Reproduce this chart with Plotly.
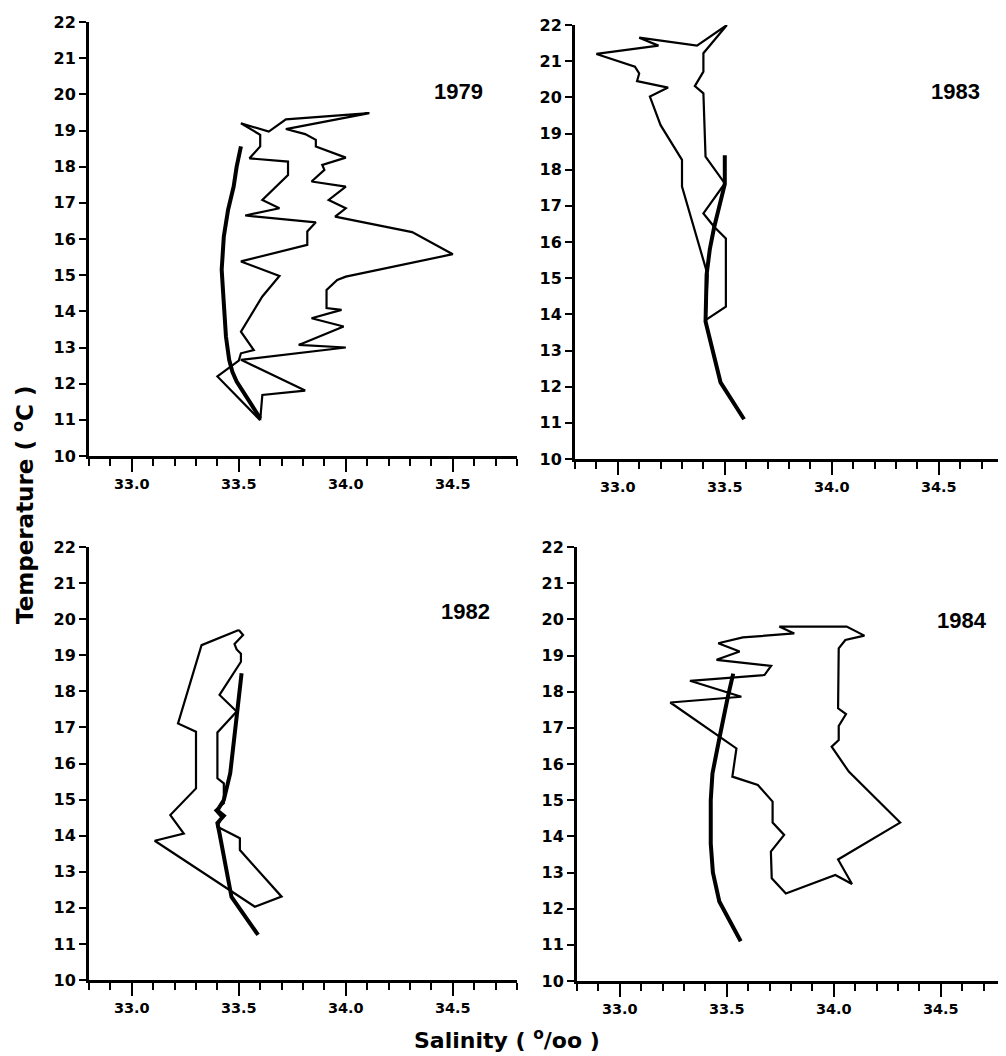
import plotly.graph_objects as go

# ---------------- data ----------------
years = ["1979", "1983", "1982", "1984"]

# 1979 (thin loop = observed, thick = mean)
sal_1979_loop = [33.60, 33.61, 33.81, 33.51, 34.00, 33.78, 33.99, 33.84, 33.98, 33.91, 33.91, 33.96, 34.00,
                 34.50, 34.31, 33.95, 34.00, 33.92, 34.00, 33.84, 33.90, 33.89, 34.00, 33.86, 33.86, 33.81,
                 33.72, 34.11, 33.72, 33.64, 33.51, 33.60, 33.60, 33.55, 33.73, 33.73, 33.61, 33.69, 33.53,
                 33.86, 33.82, 33.82, 33.51, 33.69, 33.61, 33.51, 33.57, 33.51, 33.50, 33.40, 33.60]
temp_1979_loop = [10.99, 11.69, 11.81, 12.66, 13.00, 13.07, 13.58, 13.81, 14.04, 14.09, 14.59, 14.87, 14.96,
                  15.58, 16.19, 16.62, 16.85, 17.08, 17.45, 17.59, 17.91, 18.05, 18.25, 18.56, 18.74, 18.90,
                  19.04, 19.48, 19.31, 18.97, 19.20, 18.88, 18.56, 18.23, 18.14, 17.77, 17.08, 16.85, 16.65,
                  16.46, 16.21, 15.84, 15.38, 14.98, 14.41, 13.44, 12.93, 12.84, 12.64, 12.20, 10.99]
sal_1979_mean = [33.51, 33.49, 33.476, 33.45, 33.43, 33.42, 33.43, 33.44, 33.455, 33.47, 33.49, 33.60]
temp_1979_mean = [18.56, 18.00, 17.45, 16.81, 16.07, 15.15, 14.22, 13.30, 12.66, 12.33, 12.06, 11.04]

# 1983
sal_1983_loop = [33.51, 33.37, 33.10, 33.19, 32.90, 33.08, 33.10, 33.09, 33.235, 33.15, 33.20, 33.30, 33.30,
                 33.42, 33.41, 33.505, 33.505, 33.45, 33.40, 33.50, 33.41, 33.40, 33.36, 33.40, 33.40, 33.51]
temp_1983_loop = [22.00, 21.43, 21.65, 21.43, 21.20, 20.85, 20.66, 20.45, 20.27, 20.02, 19.23, 18.27, 17.53,
                  15.09, 13.84, 14.21, 16.10, 16.42, 16.79, 17.62, 18.36, 20.11, 20.31, 20.71, 21.22, 22.00]
sal_1983_mean = [33.50, 33.50, 33.45, 33.43, 33.415, 33.41, 33.48, 33.59]
temp_1983_mean = [18.40, 17.60, 16.40, 15.80, 15.10, 13.80, 12.12, 11.10]

# 1982
sal_1982_loop = [33.50, 33.326, 33.216, 33.30, 33.30, 33.18, 33.243, 33.107, 33.575, 33.70, 33.505, 33.505,
                 33.40, 33.42, 33.39, 33.43, 33.43, 33.40, 33.40, 33.49, 33.41, 33.51, 33.51, 33.49, 33.48,
                 33.52, 33.50]
temp_1982_loop = [19.70, 19.28, 17.11, 16.88, 15.31, 14.57, 14.06, 13.86, 12.03, 12.31, 13.60, 13.93,
                  14.25, 14.50, 14.70, 14.90, 15.45, 15.59, 16.86, 17.44, 17.90, 18.82, 19.04, 19.16, 19.31,
                  19.56, 19.70]
sal_1982_mean = [33.513, 33.49, 33.46, 33.43, 33.40, 33.43, 33.40, 33.41, 33.466, 33.59]
temp_1982_mean = [18.50, 17.34, 15.73, 14.99, 14.70, 14.55, 14.35, 14.06, 12.30, 11.25]

# 1984
sal_1984_loop = [33.745, 34.06, 34.143, 34.054, 34.023, 34.02, 34.057, 34.023, 34.023, 33.99, 34.07, 34.31,
                 34.02, 34.085, 34.007, 33.776, 33.71, 33.706, 33.768, 33.714, 33.714, 33.645, 33.526,
                 33.545, 33.236, 33.568, 33.328, 33.676, 33.707, 33.452, 33.56, 33.46, 33.575, 33.815, 33.745]
temp_1984_loop = [19.80, 19.80, 19.55, 19.43, 19.20, 17.54, 17.38, 17.05, 16.66, 16.48, 15.79, 14.38,
                  13.36, 12.68, 12.93, 12.42, 12.84, 13.58, 14.04, 14.38, 14.96, 15.42, 15.65,
                  16.43, 17.70, 17.86, 18.30, 18.46, 18.71, 18.88, 19.11, 19.34, 19.50, 19.61, 19.80]
sal_1984_mean = [33.53, 33.505, 33.467, 33.433, 33.425, 33.425, 33.435, 33.465, 33.565]
temp_1984_mean = [18.50, 17.86, 16.76, 15.74, 15.00, 13.80, 13.00, 12.20, 11.10]

x_range = [32.8, 34.8]
y_range = [10, 22]
x_major_ticks = [33.0, 33.5, 34.0, 34.5]
x_tick_labels = ["33.0", "33.5", "34.0", "34.5"]
y_ticks = list(range(10, 23))
y_tick_labels = [str(v) for v in y_ticks]

panels = [
    (sal_1979_loop, temp_1979_loop, sal_1979_mean, temp_1979_mean),
    (sal_1983_loop, temp_1983_loop, sal_1983_mean, temp_1983_mean),
    (sal_1982_loop, temp_1982_loop, sal_1982_mean, temp_1982_mean),
    (sal_1984_loop, temp_1984_loop, sal_1984_mean, temp_1984_mean),
]

# ---------------- layout geometry ----------------
# The page body has an 8px margin, so the figure is drawn 8px in from the
# window corner; positions below are window pixels and are shifted by OFF.
OFF = 8
W, H = 1006 - OFF, 1056 - OFF
# (left, right, top, bottom) in window pixels
boxes = [
    (89, 517, 22, 456),
    (575, 1003, 25, 459),
    (89, 517, 547, 980),
    (577, 1005, 547, 981),
]
year_pos = [(458, 92), (955, 92), (465, 611), (962, 620)]


def px_x(v):
    return (v - OFF) / W


def px_y(v):
    return 1 - (v - OFF) / H


FONT = "Liberation Sans, Arial, Helvetica, sans-serif"
WIDE = "DejaVu Sans, Verdana, sans-serif"

fig = go.Figure()
layout = dict(
    template="none",
    width=W, height=H,
    margin=dict(l=0, r=0, t=0, b=0, pad=0),
    paper_bgcolor="white", plot_bgcolor="white",
    showlegend=False,
    font=dict(family=FONT, color="black"),
)

for i, (sl, tl, sm, tm) in enumerate(panels):
    n = "" if i == 0 else str(i + 1)
    fig.add_trace(go.Scatter(x=sl, y=tl, mode="lines", xaxis="x" + n, yaxis="y" + n,
                             line=dict(color="black", width=2.2), hoverinfo="skip"))
    fig.add_trace(go.Scatter(x=sm, y=tm, mode="lines", xaxis="x" + n, yaxis="y" + n,
                             line=dict(color="black", width=4), hoverinfo="skip"))
    l, r, t, b = boxes[i]
    layout["xaxis" + n] = dict(
        domain=[px_x(l), min(px_x(r), 1.0)], anchor="y" + n, range=x_range, automargin=False,
        tickmode="array", tickvals=x_major_ticks,
        ticktext=["<b>%s</b>" % s for s in x_tick_labels],
        ticks="outside", ticklen=13, tickwidth=2, tickcolor="black",
        minor=dict(dtick=0.1, tick0=32.8, ticks="outside", ticklen=7, tickwidth=2, tickcolor="black",
                   showgrid=False),
        showline=True, linewidth=3, linecolor="black",
        showgrid=False, zeroline=False,
        tickfont=dict(family=WIDE, size=14.5, color="black"),
        fixedrange=True,
    )
    layout["yaxis" + n] = dict(
        domain=[px_y(b), px_y(t)], anchor="x" + n, range=y_range, automargin=False,
        tickmode="array", tickvals=y_ticks,
        ticktext=["<b>%s</b>" % s for s in y_tick_labels],
        ticks="outside", ticklen=7, tickwidth=2, tickcolor="black",
        showline=True, linewidth=3, linecolor="black",
        showgrid=False, zeroline=False,
        tickfont=dict(family=WIDE, size=16, color="black"),
        fixedrange=True,
    )

annotations = []
for (px, py), yr in zip(year_pos, years):
    annotations.append(dict(x=px_x(px), y=px_y(py), xref="paper", yref="paper",
                            text="<b>%s</b>" % yr, showarrow=False, xanchor="center", yanchor="middle",
                            font=dict(family=FONT, size=22, color="black")))
annotations.append(dict(x=px_x(23), y=px_y(505), xref="paper", yref="paper",
                        text="<b>Temperature ( <sup>o</sup>C )</b>", textangle=-90, showarrow=False,
                        xanchor="center", yanchor="middle",
                        font=dict(family=WIDE, size=23, color="black")))
annotations.append(dict(x=px_x(507), y=px_y(1039), xref="paper", yref="paper",
                        text="<b>Salinity ( <sup>o</sup>/oo )</b>", showarrow=False,
                        xanchor="center", yanchor="middle",
                        font=dict(family=WIDE, size=22, color="black")))
layout["annotations"] = annotations

fig.update_layout(**layout)
fig.write_html("out.html")
